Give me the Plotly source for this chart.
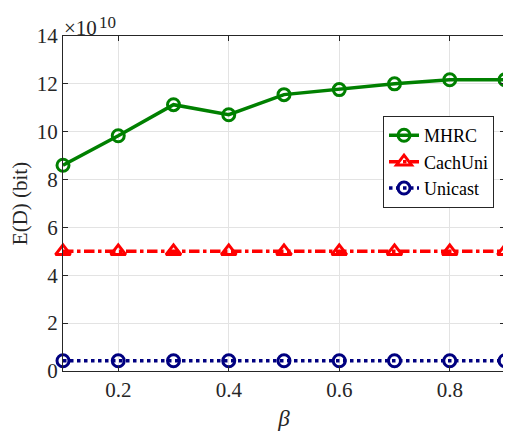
import plotly.graph_objects as go

beta = [0.1, 0.2, 0.3, 0.4, 0.5, 0.6, 0.7, 0.8, 0.9]
mhrc = [8.6, 9.83, 11.13, 10.71, 11.55, 11.76, 12.0, 12.17, 12.17]
cachuni = [5.0] * 9
unicast = [0.43] * 9

FONT = "Liberation Serif"
TICKFONT = dict(family=FONT, size=21, color="#262626")

fig = go.Figure()
fig.add_trace(go.Scatter(x=beta, y=mhrc, name="MHRC", mode="lines+markers",
                         line=dict(color="#008000", width=3.5),
                         marker=dict(symbol="circle-open", size=12, color="#008000",
                                     line=dict(width=3)),
                         cliponaxis=False))
fig.add_trace(go.Scatter(x=beta, y=cachuni, name="CachUni", mode="lines+markers",
                         line=dict(color="#ff0000", width=3.5, dash="dashdot"),
                         marker=dict(symbol="triangle-up-open", size=13, color="#ff0000",
                                     line=dict(width=3)),
                         cliponaxis=False))
fig.add_trace(go.Scatter(x=beta, y=unicast, name="Unicast", mode="lines+markers",
                         line=dict(color="#000080", width=3.5, dash="dot"),
                         marker=dict(symbol="circle-open", size=12, color="#000080",
                                     line=dict(width=3)),
                         cliponaxis=False))

fig.update_layout(
    width=503, height=423,
    margin=dict(l=55, r=6, t=28, b=60),
    paper_bgcolor="white", plot_bgcolor="white",
    font=dict(family=FONT, size=19, color="#262626"),
    showlegend=True,
    legend=dict(x=0.724, y=0.761, xanchor="left", yanchor="top",
                bgcolor="white", bordercolor="#262626", borderwidth=1,
                font=dict(family=FONT, size=18, color="black"),
                tracegroupgap=0, itemwidth=30),
    annotations=[
        dict(text="×10", x=0, y=1, xref="paper", yref="paper",
             xanchor="left", yanchor="bottom", showarrow=False, xshift=-1, yshift=-6,
             font=dict(family=FONT, size=21, color="#262626")),
        dict(text="10", x=0, y=1, xref="paper", yref="paper",
             xanchor="left", yanchor="bottom", showarrow=False, xshift=34, yshift=2,
             font=dict(family=FONT, size=17, color="#262626")),
    ],
)
fig.update_xaxes(range=[0.1, 0.9], tickvals=[0.2, 0.4, 0.6, 0.8],
                 ticktext=["0.2", "0.4", "0.6", "0.8"], tickfont=TICKFONT,
                 showgrid=True, gridcolor="#e3e3e3", gridwidth=1,
                 showline=True, linecolor="#262626", linewidth=1, mirror="ticks",
                 ticks="inside", ticklen=5, tickcolor="#262626",
                 zeroline=False, automargin=False,
                 title=dict(text="<i>β</i>", font=dict(family=FONT, size=23), standoff=10))
fig.update_yaxes(range=[0, 14], tickvals=[0, 2, 4, 6, 8, 10, 12, 14], tickfont=TICKFONT,
                 showgrid=True, gridcolor="#e3e3e3", gridwidth=1,
                 showline=True, linecolor="#262626", linewidth=1, mirror="ticks",
                 ticks="inside", ticklen=5, tickcolor="#262626",
                 zeroline=False, automargin=False,
                 title=dict(text="E(D) (bit)", font=dict(family=FONT, size=21), standoff=8))

fig.write_html("out.html")
